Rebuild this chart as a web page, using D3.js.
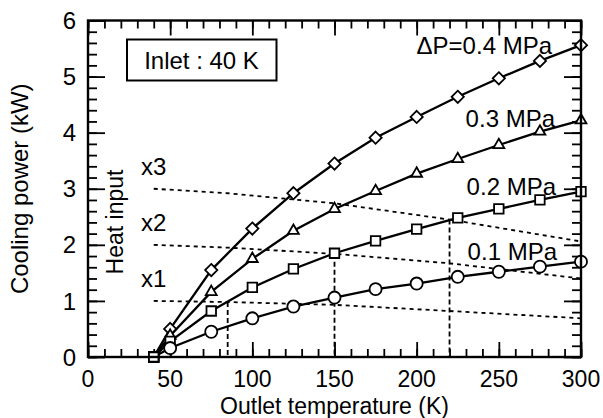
<!DOCTYPE html>
<html>
<head>
<meta charset="utf-8">
<script src="https://cdn.jsdelivr.net/npm/d3@7"></script>
<style>
  html, body { margin: 0; padding: 0; background: #fff; }
  svg { display: block; }
  text { font-family: "Liberation Sans", Arial, Helvetica, sans-serif; fill: #000; }
</style>
</head>
<body>
<svg id="chart" width="603" height="418"></svg>
<script>
// ---- data ----
const temps = [40, 50, 75, 100, 125, 150, 175, 200, 225, 250, 275, 300];
const p04 = [0, 0.50, 1.55, 2.29, 2.92, 3.45, 3.91, 4.28, 4.64, 4.97, 5.28, 5.56];
const p03 = [0, 0.38, 1.16, 1.75, 2.25, 2.64, 2.96, 3.27, 3.53, 3.78, 4.02, 4.22];
const p02 = [0, 0.28, 0.82, 1.24, 1.57, 1.85, 2.07, 2.28, 2.48, 2.64, 2.80, 2.95];
const p01 = [0, 0.16, 0.45, 0.69, 0.90, 1.06, 1.21, 1.31, 1.43, 1.52, 1.61, 1.70];
const seriesLabels = ["\u0394P=0.4 MPa", "0.3 MPa", "0.2 MPa", "0.1 MPa"];
const markerTypes = ["diamond", "triangle", "square", "circle"];

const heatTemps = [40, 85, 150, 220, 300];
const heat1 = [1.0, 0.98, 0.93, 0.82, 0.69];
const heat2 = [2.0, 1.95, 1.84, 1.67, 1.40];
const heat3 = [3.0, 2.92, 2.74, 2.45, 2.06];
const heatLabels = ["x1", "x2", "x3"];

const dropTemps = [85, 150, 220];
const dropValues = [0.98, 1.84, 2.45];

const xMajorTicks = [0, 50, 100, 150, 200, 250, 300];
const yMajorTicks = [0, 1, 2, 3, 4, 5, 6];

// ---- layout ----
const svg = d3.select("#chart");
const L = 88, R = 581, T = 20.5, B = 357;
const x = d3.scaleLinear().domain([0, 300]).range([L, R]);
const y = d3.scaleLinear().domain([0, 6]).range([B, T]);
const FS = 24;

// ticks (inward, all four sides)
function tickGroup(axisFn, scale, values, size, transform) {
  const g = svg.append("g").attr("transform", transform)
    .call(axisFn(scale).tickValues(values).tickSize(size).tickFormat(""));
  g.select(".domain").remove();
  g.selectAll(".tick line").attr("stroke", "#000").attr("stroke-width", 1.8);
  return g;
}
const xMinor = d3.range(0, 301, 10);
const yMinor = d3.range(0, 6.01, 0.2).map(v => +v.toFixed(1));
tickGroup(d3.axisBottom, x, xMinor, -8, `translate(0,${B})`);
tickGroup(d3.axisBottom, x, xMajorTicks, -15, `translate(0,${B})`);
tickGroup(d3.axisTop, x, xMinor, -8, `translate(0,${T})`);
tickGroup(d3.axisTop, x, xMajorTicks, -15, `translate(0,${T})`);
tickGroup(d3.axisLeft, y, yMinor, -9, `translate(${L},0)`);
tickGroup(d3.axisLeft, y, yMajorTicks, -17, `translate(${L},0)`);
tickGroup(d3.axisRight, y, yMinor, -9, `translate(${R},0)`);
tickGroup(d3.axisRight, y, yMajorTicks, -17, `translate(${R},0)`);

// tick labels
svg.append("g").selectAll("text").data(xMajorTicks).join("text")
  .attr("x", d => x(d)).attr("y", B + 30)
  .attr("text-anchor", "middle").attr("font-size", 23).text(d => d);
svg.append("g").selectAll("text").data(yMajorTicks).join("text")
  .attr("x", L - 12).attr("y", d => y(d)).attr("dy", "0.36em")
  .attr("text-anchor", "end").attr("font-size", FS).text(d => d);

// axis titles
svg.append("text").attr("x", (L + R) / 2).attr("y", 413.5)
  .attr("text-anchor", "middle").attr("font-size", 23).text("Outlet temperature (K)");
svg.append("text").attr("transform", `translate(28,${(T + B) / 2}) rotate(-90)`)
  .attr("text-anchor", "middle").attr("font-size", FS).text("Cooling power (kW)");

// heat input dashed lines
const heatLine = d3.line().x((d, i) => x(heatTemps[i])).y(d => y(d));
[heat1, heat2, heat3].forEach((h, k) => {
  svg.append("path").attr("d", heatLine(h)).attr("fill", "none")
    .attr("stroke", "#000").attr("stroke-width", 1.8).attr("stroke-dasharray", "4,4");
  svg.append("text").attr("x", 141).attr("y", y(h[0]) - 14)
    .attr("font-size", FS).text(heatLabels[k]);
});
svg.append("text").attr("transform", `translate(123,222) rotate(-90)`)
  .attr("text-anchor", "middle").attr("font-size", 23).text("Heat input");

// vertical drop lines
svg.append("g").selectAll("line").data(dropTemps).join("line")
  .attr("x1", d => x(d)).attr("x2", d => x(d))
  .attr("y1", (d, i) => y(dropValues[i])).attr("y2", y(0))
  .attr("stroke", "#000").attr("stroke-width", 1.8).attr("stroke-dasharray", "5,3");

// series curves
const allSeries = [p04, p03, p02, p01];
const curve = d3.line().x((d, i) => x(temps[i])).y(d => y(d));
allSeries.forEach(s => {
  svg.append("path").attr("d", curve(s)).attr("fill", "none")
    .attr("stroke", "#000").attr("stroke-width", 2.3);
});

// markers
const symMap = {
  diamond: d3.symbol().type(d3.symbolDiamond2 || d3.symbolDiamond).size(95),
  triangle: d3.symbol().type(d3.symbolTriangle2 || d3.symbolTriangle).size(85),
  square: d3.symbol().type(d3.symbolSquare2 || d3.symbolSquare).size(115),
  circle: d3.symbol().type(d3.symbolCircle).size(115)
};
allSeries.forEach((s, k) => {
  svg.append("g").selectAll("path").data(s).join("path")
    .attr("transform", (d, i) => `translate(${x(temps[i])},${y(d)})`)
    .attr("d", (d, i) => (i === 0 ? symMap.square() : symMap[markerTypes[k]]()))
    .attr("fill", "#fff").attr("stroke", "#000").attr("stroke-width", 1.8);
});

// series labels
const labelPos = [[552, 54], [555, 127], [556, 195], [557, 260]];
seriesLabels.forEach((t, k) => {
  svg.append("text").attr("x", labelPos[k][0]).attr("y", labelPos[k][1])
    .attr("text-anchor", "end").attr("font-size", FS).text(t);
});

// inlet box
svg.append("rect").attr("x", 127).attr("y", 39.5).attr("width", 149.5).attr("height", 41)
  .attr("fill", "#fff").attr("stroke", "#000").attr("stroke-width", 2);
svg.append("text").attr("x", 201.5).attr("y", 69).attr("text-anchor", "middle")
  .attr("font-size", FS).text("Inlet : 40 K");

// frame
svg.append("rect").attr("x", L).attr("y", T).attr("width", R - L).attr("height", B - T)
  .attr("fill", "none").attr("stroke", "#000").attr("stroke-width", 2.4);
</script>
</body>
</html>
